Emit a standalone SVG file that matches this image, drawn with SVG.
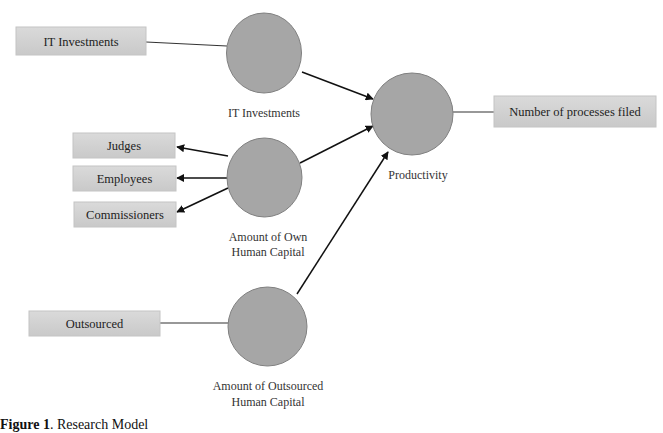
<svg xmlns="http://www.w3.org/2000/svg" width="663" height="433" viewBox="0 0 663 433">
<style>
.box{fill:url(#g);stroke:#c4c4c4;stroke-width:1}
.circ{fill:#a6a6a6;stroke:#808080;stroke-width:1}
.bt{font-family:"Liberation Serif",serif;font-size:12.5px;fill:#222;text-anchor:middle}
.lt{font-family:"Liberation Serif",serif;font-size:12px;fill:#333;text-anchor:middle}
.ln{stroke:#333;stroke-width:1.2;fill:none}
.ar{stroke:#111;stroke-width:1.5;fill:none;marker-end:url(#ah)}
.cap{font-family:"Liberation Serif",serif;font-size:14px;fill:#111}
</style>
<defs>
<linearGradient id="g" x1="0" y1="0" x2="0" y2="1">
<stop offset="0" stop-color="#dadada"/><stop offset="1" stop-color="#c9c9c9"/>
</linearGradient>
<marker id="ah" viewBox="0 0 10 10" refX="9" refY="5" markerWidth="8" markerHeight="8" orient="auto" markerUnits="userSpaceOnUse">
<path d="M0,0 L10,5 L0,10 z" fill="#111"/>
</marker>
</defs>
<rect width="663" height="433" fill="#fff"/>
<g id="connectors">
<line class="ln" x1="146" y1="42" x2="227" y2="46"/>
<line class="ln" x1="160" y1="323" x2="228" y2="323"/>
<line class="ln" x1="453" y1="112" x2="494" y2="112"/>
<line class="ar" x1="302" y1="72" x2="373" y2="99"/>
<line class="ar" x1="300" y1="163" x2="373" y2="126"/>
<line class="ar" x1="297" y1="294" x2="388" y2="152"/>
<line class="ar" x1="228" y1="156" x2="177" y2="147"/>
<line class="ar" x1="228" y1="178" x2="177" y2="178"/>
<line class="ar" x1="228" y1="188" x2="177" y2="212"/>
</g>
<g id="box-it">
<rect class="box" x="16" y="27" width="130" height="28"/>
<text class="bt" x="81" y="45.5">IT Investments</text>
</g>
<g id="box-judges">
<rect class="box" x="73" y="133" width="102" height="25"/>
<text class="bt" x="124" y="150">Judges</text>
</g>
<g id="box-employees">
<rect class="box" x="73" y="166" width="103" height="25"/>
<text class="bt" x="124.5" y="183">Employees</text>
</g>
<g id="box-commissioners">
<rect class="box" x="74" y="202" width="102" height="25"/>
<text class="bt" x="125" y="219">Commissioners</text>
</g>
<g id="box-outsourced">
<rect class="box" x="29" y="311" width="131" height="25"/>
<text class="bt" x="94.5" y="328">Outsourced</text>
</g>
<g id="box-number">
<rect class="box" x="494" y="96" width="162" height="31"/>
<text class="bt" x="575" y="115.5">Number of processes filed</text>
</g>
<g id="c-it">
<ellipse class="circ" cx="264" cy="53" rx="37.5" ry="40"/>
<text class="lt" x="264" y="117">IT Investments</text>
</g>
<g id="c-own">
<ellipse class="circ" cx="264.5" cy="177.5" rx="37.5" ry="39.5"/>
<text class="lt" x="268" y="241">Amount of Own</text>
<text class="lt" x="268" y="256">Human Capital</text>
</g>
<g id="c-out">
<ellipse class="circ" cx="267.5" cy="326.5" rx="39.5" ry="39.5"/>
<text class="lt" x="268" y="390">Amount of Outsourced</text>
<text class="lt" x="268" y="406">Human Capital</text>
</g>
<g id="c-prod">
<ellipse class="circ" cx="412" cy="114" rx="41" ry="41"/>
<text class="lt" x="418" y="179">Productivity</text>
</g>
<text class="cap" x="0" y="429"><tspan font-weight="bold">Figure 1</tspan>. Research Model</text>
</svg>
